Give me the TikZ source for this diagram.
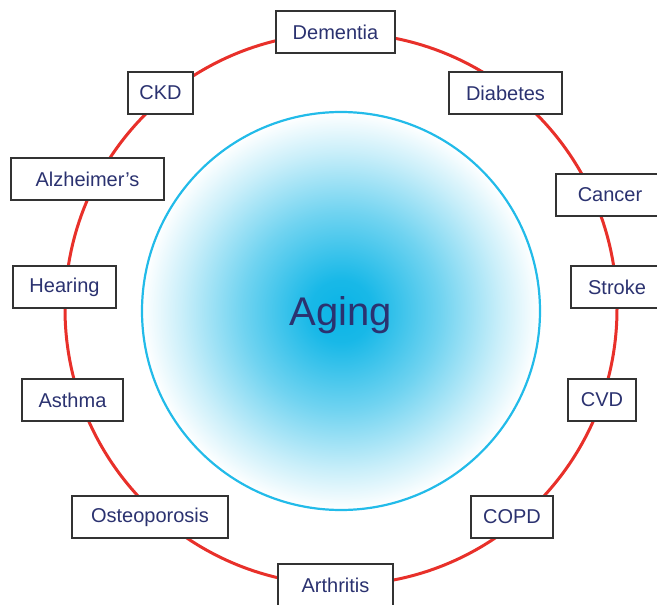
\documentclass[tikz,border=0pt]{standalone}
\usepackage{fontspec}
\setmainfont{Liberation Sans}
\definecolor{ringred}{HTML}{E8302A}
\definecolor{agecyan}{HTML}{0AB4E6}
\definecolor{labelnavy}{HTML}{2B3270}
% the circle's edge sits at 25bp of the shading square
\pgfdeclareradialshading{agingglow}{\pgfpoint{0bp}{0bp}}{%
  color(0bp)=(agecyan); color(4bp)=(agecyan!94); color(12.5bp)=(agecyan!58);
  color(20bp)=(agecyan!22); color(25bp)=(white); color(50bp)=(white)}
\tikzset{
  disease/.style={draw=black!80, line width=1.3pt, fill=white, text=labelnavy,
    font=\fontsize{20}{23}\selectfont, minimum height=42pt, inner sep=0pt}
}

\begin{document}
\begin{tikzpicture}[x=1pt,y=-1pt]
                \useasboundingbox (0,0) rectangle (657,605);
                % outer ring and the shaded core
                \draw[ringred, line width=3pt] (341,309) circle (276);
                \shade[shading=agingglow] (341,311) circle (199);
                \draw[agecyan!90!white, line width=2.2pt] (341,311) circle (199);
                \node[text=labelnavy, font=\fontsize{40}{46}\selectfont] (aging) at (341,315) {Aging};

                % conditions round the ring
                \node[disease, minimum width=119pt] (dementia) at (335.5,32) {Dementia};
                \node[disease, minimum width=65pt] (ckd) at (160.5,93) {CKD};
                \node[disease, minimum width=113pt] (diabetes) at (505.5,93) {Diabetes};
                \node[disease, minimum width=153pt] (alzheimers) at (87.5,179) {Alzheimer’s};
                \node[disease, minimum width=108pt] (cancer) at (610,195) {Cancer};
                \node[disease, minimum width=103pt] (hearing) at (64.5,287) {Hearing};
                \node[disease, minimum width=92pt] (stroke) at (617,287) {Stroke};
                \node[disease, minimum width=101pt] (asthma) at (72.5,400) {Asthma};
                \node[disease, minimum width=68pt] (cvd) at (602,400) {CVD};
                \node[disease, minimum width=156pt] (osteoporosis) at (150,517) {Osteoporosis};
                \node[disease, minimum width=82pt] (copd) at (512,517) {COPD};
                \node[disease, minimum width=115pt] (arthritis) at (335.5,585) {Arthritis};
            \end{tikzpicture}
\end{document}
